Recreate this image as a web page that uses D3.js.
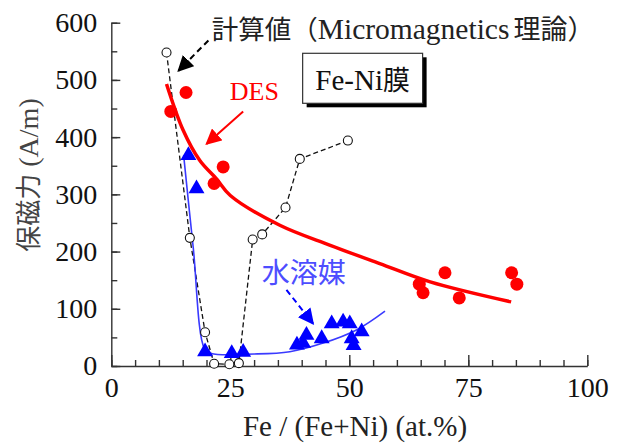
<!DOCTYPE html>
<html>
<head>
<meta charset="utf-8">
<script src="https://cdn.jsdelivr.net/npm/d3@7"></script>
<style>
  body { margin: 0; background: #fff; }
  svg { display: block; }
  .serif { font-family: "Liberation Serif", "Times New Roman", Times, serif; }
  .cjk { font-family: "Noto Sans CJK JP", sans-serif; }
</style>
</head>
<body>
<div id="chart"></div>
<script>
// DES (red dots)
const desX = [12.5, 15.7, 21.6, 23.5, 64.7, 65.5, 70.1, 73.1, 84.1, 85.2];
const desY = [445, 478, 319, 348, 143, 128, 163, 119, 163, 143];
// DES fit curve
const desFitX = [11.6, 15.1, 18.6, 22.1, 25, 35.4, 46, 56.4, 67, 84];
const desFitY = [493, 412, 359, 327, 298, 246, 211, 179, 147, 112];

// water solvent (blue triangles)
const aqX = [16.2, 17.9, 19.7, 25.3, 27.7, 39, 40.3, 41, 44.2, 46.3, 48.7, 50.1, 50.5, 50.9, 52.6];
const aqY = [368, 310, 25, 22, 24, 37, 40, 54, 48, 74, 77, 74, 48, 36, 60];
const aqFitX = [15.2, 17.2, 19.6, 21, 30, 37.5, 44.5, 51.5, 57.5];
const aqFitY = [368, 208, 30, 22, 21, 25, 40, 63, 96];

// calculated (Micromagnetics), open circles + dashed line
const calcX = [11.6, 16.5, 19.7, 21.6, 24.8, 26.8, 29.7, 31.7, 36.6, 39.6, 49.7];
const calcY = [548, 224, 59, 4, 3, 5, 221, 230, 277, 362, 394];

const xTicks = [0, 25, 50, 75, 100];
const yTicks = [0, 100, 200, 300, 400, 500, 600];

const W = 620, H = 443;

const svg = d3.select("#chart").append("svg")
  .attr("width", W).attr("height", H);

const x = d3.scaleLinear().domain([0, 100]).range([111.3, 587.3]);
const y = d3.scaleLinear().domain([0, 600]).range([366, 22.7]);

// minor ticks
svg.append("g")
  .attr("transform", "translate(0," + y(0) + ")")
  .call(d3.axisBottom(x).tickValues(d3.range(0, 101, 5)).tickSize(-6).tickFormat(""))
  .call(g => g.select(".domain").remove());
svg.append("g")
  .attr("transform", "translate(" + x(0) + ",0)")
  .call(d3.axisLeft(y).tickValues(d3.range(0, 601, 50)).tickSize(-6).tickFormat(""))
  .call(g => g.select(".domain").remove());

// major
const xAxis = svg.append("g")
  .attr("transform", "translate(0," + y(0) + ")")
  .call(d3.axisBottom(x).tickValues(xTicks).tickSizeInner(-11).tickSizeOuter(0).tickPadding(11));
const yAxis = svg.append("g")
  .attr("transform", "translate(" + x(0) + ",0)")
  .call(d3.axisLeft(y).tickValues(yTicks).tickSizeInner(-9).tickSizeOuter(0).tickPadding(14));

svg.selectAll(".tick line, .domain").attr("stroke", "#333").attr("stroke-width", 1.4);
[xAxis, yAxis].forEach(a => {
  a.attr("font-family", null).attr("font-size", null);
  a.selectAll("text").attr("class", "serif")
    .style("font-size", "28px").attr("fill", "#111");
});

// axis titles
svg.append("text")
  .attr("class", "serif")
  .attr("x", 355).attr("y", 436)
  .attr("text-anchor", "middle")
  .style("font-size", "29px").attr("fill", "#222")
  .text("Fe / (Fe+Ni) (at.%)");

const yt = svg.append("text")
  .attr("transform", "translate(38,175) rotate(-90)")
  .attr("text-anchor", "middle")
  .attr("fill", "#444");
yt.append("tspan").attr("class", "cjk").style("font-size", "26px").text("保磁力");
yt.append("tspan").attr("class", "serif").style("font-size", "28px").text(" (A/m)");

// arrowheads
const defs = svg.append("defs");
function marker(id, color) {
  defs.append("marker")
    .attr("id", id).attr("viewBox", "0 0 10 10")
    .attr("refX", 9).attr("refY", 5)
    .attr("markerWidth", 16).attr("markerHeight", 16)
    .attr("markerUnits", "userSpaceOnUse")
    .attr("orient", "auto")
    .append("path").attr("d", "M0,0L10,5L0,10z").attr("fill", color);
}
marker("headK", "#000");
marker("headR", "#f00");
marker("headB", "#00f");

const line = d3.line().x(d => x(d[0])).y(d => y(d[1]));

// calculated dashed line
svg.append("path")
  .datum(d3.zip(calcX, calcY))
  .attr("d", line)
  .attr("fill", "none").attr("stroke", "#111")
  .attr("stroke-width", 1.3).attr("stroke-dasharray", "5,3");

// blue fit
svg.append("path")
  .datum(d3.zip(aqFitX, aqFitY))
  .attr("d", line.curve(d3.curveCatmullRom))
  .attr("fill", "none").attr("stroke", "#3a3aff").attr("stroke-width", 1.6);

// red fit
svg.append("path")
  .datum(d3.zip(desFitX, desFitY))
  .attr("d", line.curve(d3.curveCatmullRom))
  .attr("fill", "none").attr("stroke", "#f00").attr("stroke-width", 3.5);

// open circles
svg.append("g").selectAll("circle")
  .data(d3.zip(calcX, calcY)).join("circle")
  .attr("cx", d => x(d[0])).attr("cy", d => y(d[1])).attr("r", 4.5)
  .attr("fill", "#fff").attr("stroke", "#111").attr("stroke-width", 1.1);

// red dots
svg.append("g").selectAll("circle")
  .data(d3.zip(desX, desY)).join("circle")
  .attr("cx", d => x(d[0])).attr("cy", d => y(d[1])).attr("r", 6.5)
  .attr("fill", "#f00");

// blue triangles
const tri = d3.symbol().type(d3.symbolTriangle).size(110);
svg.append("g").selectAll("path")
  .data(d3.zip(aqX, aqY)).join("path")
  .attr("transform", d => "translate(" + x(d[0]) + "," + y(d[1]) + ")")
  .attr("d", tri)
  .attr("fill", "#00f");

// annotations
function arrow(x1, y1, x2, y2, color, id, dash) {
  svg.append("line")
    .attr("x1", x(x1)).attr("y1", y(y1)).attr("x2", x(x2)).attr("y2", y(y2))
    .attr("stroke", color).attr("stroke-width", 2)
    .attr("stroke-dasharray", dash || null)
    .attr("marker-end", "url(#" + id + ")");
}
arrow(20.4, 569, 14.1, 516, "#000", "headK", "6,4");
arrow(27.7, 445, 20.0, 388, "#f00", "headR");
arrow(36.8, 133, 42.4, 74, "#00f", "headB", "6,4");

const calcT = svg.append("text")
  .attr("x", x(21.1)).attr("y", 39)
  .attr("fill", "#222");
calcT.append("tspan").attr("class", "cjk").style("font-size", "26.5px").text("計算値（");
calcT.append("tspan").attr("class", "serif").style("font-size", "29.5px").text("Micromagnetics");
calcT.append("tspan").attr("class", "cjk").style("font-size", "27px").attr("dx", 4).text("理論）");

svg.append("text")
  .attr("class", "serif")
  .attr("x", x(24.9)).attr("y", 100)
  .style("font-size", "26px").attr("fill", "#f00")
  .text("DES");

svg.append("text")
  .attr("class", "cjk")
  .attr("x", x(31.6)).attr("y", 283)
  .style("font-size", "28px").attr("fill", "#4d4dff")
  .text("水溶媒");

// Fe-Ni box
const bx = x(40.2), by = 53.3, bw = x(65.4) - x(40.2), bh = 50;
svg.append("rect").attr("x", bx + 4).attr("y", by + 4).attr("width", bw).attr("height", bh).attr("fill", "#000");
svg.append("rect").attr("x", bx).attr("y", by).attr("width", bw).attr("height", bh)
  .attr("fill", "#fff").attr("stroke", "#333").attr("stroke-width", 1.2);
const fe = svg.append("text")
  .attr("x", bx + bw / 2).attr("y", 90).attr("text-anchor", "middle")
  .attr("fill", "#111");
fe.append("tspan").attr("class", "serif").style("font-size", "29px").text("Fe-Ni");
fe.append("tspan").attr("class", "cjk").style("font-size", "27px").text("膜");
</script>
</body>
</html>
